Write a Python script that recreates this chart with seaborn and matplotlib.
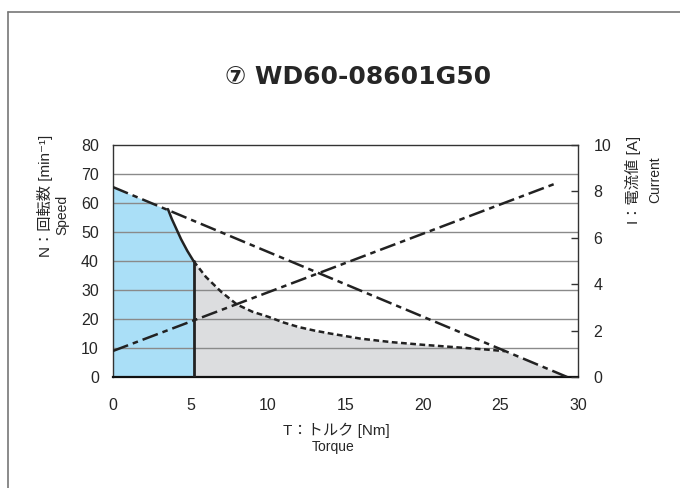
import numpy as np
import matplotlib
matplotlib.use("Agg")
import matplotlib.pyplot as plt
import seaborn as sns

# ---- data ----
# speed line (dash-dot): torque [Nm] -> speed [min^-1]
speed_T = [0.0, 29.3]
speed_N = [65.5, 0.0]

# current line (dash-dot): torque [Nm] -> current [A]
current_T = [0.0, 28.6]
current_I = [1.12, 8.35]

# continuous limit (solid curve) - end of blue zone
cont_T = [3.55, 3.8, 4.1, 4.4, 4.8, 5.2]
cont_N = [57.9, 54.5, 51.0, 47.5, 43.5, 40.0]

# short-time limit (dotted curve)
short_T = [5.2, 6, 7, 8, 9, 10, 11, 12, 13, 14, 16, 18, 20, 22, 24, 25.3]
short_N = [40.0, 34.5, 29.3, 25.0, 22.5, 20.8, 18.8, 17.2, 16.0, 15.0,
           13.2, 12.0, 11.1, 10.3, 9.5, 8.9]

x_ticks = [0, 5, 10, 15, 20, 25, 30]
n_ticks = [0, 10, 20, 30, 40, 50, 60, 70, 80]
i_ticks = [0, 2, 4, 6, 8, 10]

title = "⑦ WD60-08601G50"

# ---- style ----
sns.set_style("white")
plt.rcParams['font.family'] = ['Liberation Sans', 'Noto Sans CJK JP', 'DejaVu Sans']

fig = plt.figure(figsize=(6.8, 4.88), dpi=100)
ax = fig.add_axes([0.166, 0.2275, 0.684, 0.4754])

blue = "#aadff7"
grey = "#dcdddf"
dashdot = (0, (6.5, 2, 2.2, 2))
dotted = (0, (2.3, 1.4))
lw = 1.8

# ---- fills ----
seg_T = np.linspace(0, cont_T[0], 20)
seg_N = np.interp(seg_T, speed_T, speed_N)
blue_T = np.concatenate([seg_T, cont_T])
blue_N = np.concatenate([seg_N, cont_N])
ax.fill_between(blue_T, blue_N, 0, color=blue, lw=0, zorder=1)

tail_T = np.linspace(short_T[-1], speed_T[-1], 10)
tail_N = np.interp(tail_T, speed_T, speed_N)
grey_T = np.concatenate([short_T, tail_T])
grey_N = np.concatenate([short_N, tail_N])
ax.fill_between(grey_T, grey_N, 0, color=grey, lw=0, zorder=1)

# gridlines
for n in n_ticks[1:-1]:
    ax.axhline(n, color="#8a8a8a", lw=1.0, zorder=2)

# ---- curves ----
sns.lineplot(x=speed_T, y=speed_N, color="#222222", lw=lw,
             linestyle=dashdot, ax=ax, zorder=4)
sns.lineplot(x=cont_T, y=cont_N, color="#222222", lw=lw, ax=ax, zorder=4)
ax.plot([cont_T[-1], cont_T[-1]], [cont_N[-1], 0], color="#222222",
        lw=2.0, zorder=4)
sns.lineplot(x=short_T, y=short_N, color="#222222", lw=lw,
             linestyle=dotted, ax=ax, zorder=4)

ax.set_xlim(0, 30)
ax.set_ylim(0, 80)
ax.set_xticks(x_ticks)
ax.set_yticks(n_ticks)
ax.tick_params(axis="x", direction="in", length=5, width=1, color="#333333",
               labelsize=11.5, pad=15)
ax.tick_params(axis="y", length=0, labelsize=11.5, pad=10)
for s in ax.spines.values():
    s.set_color("#333333")
    s.set_linewidth(1.0)
ax.spines["bottom"].set_linewidth(1.6)
ax.spines["bottom"].set_color("#111111")

# ---- current axis ----
ax2 = ax.twinx()
sns.lineplot(x=current_T, y=current_I, color="#222222", lw=lw,
             linestyle=dashdot, ax=ax2, zorder=4)
ax2.set_ylim(0, 10)
ax2.set_yticks(i_ticks)
ax2.tick_params(axis="y", direction="in", length=5, width=1, color="#333333",
                labelsize=11.5, pad=11)
ax2.set_ylabel("")
ax.set_xlabel("")
ax.set_ylabel("")
for s in ax2.spines.values():
    s.set_visible(False)

# ---- texts ----
fig.text(0.527, 0.842, title, ha="center", va="center", fontsize=18,
         fontweight="bold", family=['DejaVu Sans', 'Noto Sans CJK JP'])
fig.text(0.494, 0.119, "T：トルク [Nm]", ha="center", va="center", fontsize=11)
fig.text(0.49, 0.084, "Torque", ha="center", va="center", fontsize=10)
fig.text(0.066, 0.598, "N：回転数 [min⁻¹]", ha="center", va="center",
         rotation=90, fontsize=11)
fig.text(0.091, 0.559, "Speed", ha="center", va="center", rotation=90,
         fontsize=10)
fig.text(0.931, 0.631, "I：電流値 [A]", ha="center", va="center",
         rotation=90, fontsize=11)
fig.text(0.963, 0.631, "Current", ha="center", va="center", rotation=90,
         fontsize=10)

# figure frame (top and left edge)
fig.add_artist(plt.Line2D([8 / 680, 1], [1 - 12 / 488, 1 - 12 / 488],
                          transform=fig.transFigure, color="#777777", lw=1.2))
fig.add_artist(plt.Line2D([8 / 680, 8 / 680], [0, 1 - 12 / 488],
                          transform=fig.transFigure, color="#777777", lw=1.2))

fig.savefig("out.png", dpi=100)
